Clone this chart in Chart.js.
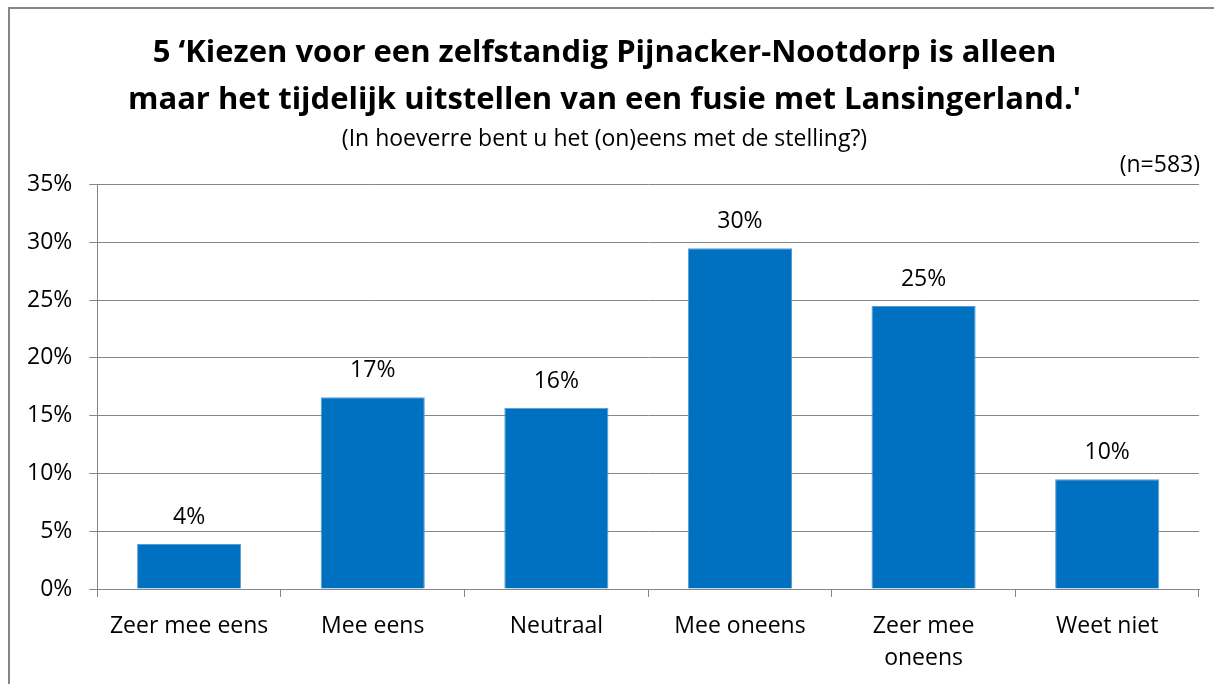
<!DOCTYPE html>
<html>
<head>
<meta charset="utf-8">
<script src="https://cdn.jsdelivr.net/npm/chart.js@4"></script>
<style>
  html, body { margin: 0; padding: 0; background: #fff; overflow: hidden; }
  #box {
    position: absolute; left: 8px; top: 7px; width: 1210px; height: 680px;
    border-left: 2px solid #868686; border-top: 2px solid #868686;
  }
  #box canvas { position: absolute; left: 0; top: 0; }
</style>
</head>
<body>
<div id="box"><canvas id="chart" width="1208" height="678"></canvas></div>
<script>
// data
const categories = ["Zeer mee eens", "Mee eens", "Neutraal", "Mee oneens", ["Zeer mee", "oneens"], "Weet niet"];
const percentages = [3.9, 16.6, 15.7, 29.5, 24.5, 9.5];
const yTicks = [0, 5, 10, 15, 20, 25, 30, 35];
const titleLines = ["5 \u2018Kiezen voor een zelfstandig Pijnacker-Nootdorp is alleen", "maar het tijdelijk uitstellen van een fusie met Lansingerland.'"];
const subtitleText = "(In hoeverre bent u het (on)eens met de stelling?)";
const sampleNote = "(n=583)";

const fontFam = "'Open Sans', sans-serif";
const gridGray = "#868686";

// value labels above the bars + the (n=...) note
const barLabels = {
    id: "barLabels",
    afterDatasetsDraw(chart) {
        const ctx = chart.ctx;
        const meta = chart.getDatasetMeta(0);
        ctx.save();
        ctx.font = "23px " + fontFam;
        ctx.fillStyle = "#000";
        ctx.textAlign = "center";
        ctx.textBaseline = "bottom";
        meta.data.forEach(function (bar, i) {
            ctx.fillText(Math.round(percentages[i]) + "%", bar.x, bar.y - 15);
        });
        ctx.textAlign = "right";
        ctx.textBaseline = "middle";
        ctx.fillText(sampleNote, chart.width - 18, 156);
        ctx.restore();
    }
};

new Chart(document.getElementById("chart"), {
    type: "bar",
    data: {
        labels: categories,
        datasets: [{
            data: percentages,
            backgroundColor: "#0070C0",
            borderColor: "#5B9BD5",
            borderWidth: 1,
            categoryPercentage: 1,
            barPercentage: 0.567
        }]
    },
    options: {
        responsive: false,
        animation: false,
        layout: { padding: { left: 0, right: 19, bottom: 0 } },
        plugins: {
            legend: { display: false },
            tooltip: { enabled: false },
            title: {
                display: true,
                text: titleLines,
                color: "#000",
                font: { family: fontFam, size: 31, weight: "bold", lineHeight: 1.5 },
                padding: { top: 21, bottom: 3 }
            },
            subtitle: {
                display: true,
                text: subtitleText,
                color: "#000",
                font: { family: fontFam, size: 23, lineHeight: 1.2 },
                padding: { top: 0, bottom: 31 }
            }
        },
        scales: {
            y: {
                min: 0,
                max: 35,
                afterBuildTicks: function (axis) {
                    axis.ticks = yTicks.map(function (v) { return { value: v }; });
                },
                ticks: {
                    color: "#000",
                    font: { family: fontFam, size: 23 },
                    padding: 17,
                    callback: function (v) { return v + "%"; }
                },
                grid: { color: gridGray, lineWidth: 1, tickLength: 8 },
                border: { color: gridGray, width: 1 }
            },
            x: {
                ticks: {
                    color: "#000",
                    font: { family: fontFam, size: 23, lineHeight: 1.39 },
                    padding: 13,
                    maxRotation: 0
                },
                grid: { offset: true, drawOnChartArea: false, color: gridGray, tickLength: 8 },
                border: { color: gridGray, width: 1 }
            }
        }
    },
    plugins: [barLabels]
});
</script>
</body>
</html>
